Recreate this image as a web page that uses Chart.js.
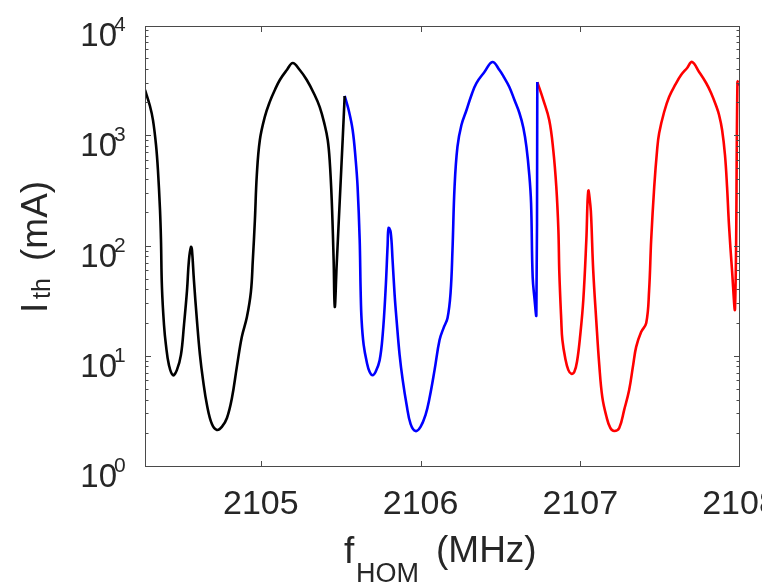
<!DOCTYPE html>
<html>
<head>
<meta charset="utf-8">
<script src="https://cdn.jsdelivr.net/npm/chart.js@4.4.1/dist/chart.umd.min.js"></script>
<style>
  html, body { margin: 0; padding: 0; background: #fff; }
  canvas { display: block; }
</style>
</head>
<body>
<canvas id="ith" width="762" height="585"></canvas>
<script>
// axis range and ticks
const X_MIN = 2104.275, X_MAX = 2108;
const xTicks = [2105, 2106, 2107, 2108];
const yTicks = [1, 10, 100, 1000, 10000];
const yTickExp = ['0', '1', '2', '3', '4'];

// threshold current (mA) vs HOM frequency (MHz)
const fBlack = [2104.275, 2104.306, 2104.325, 2104.344, 2104.356, 2104.369, 2104.375, 2104.381, 2104.394, 2104.406,
  2104.425, 2104.450, 2104.475, 2104.500, 2104.519, 2104.538, 2104.550, 2104.563, 2104.569, 2104.581,
  2104.600, 2104.619, 2104.638, 2104.663, 2104.694, 2104.725, 2104.756, 2104.788, 2104.819, 2104.850,
  2104.881, 2104.913, 2104.938, 2104.950, 2104.963, 2104.975, 2104.994, 2105.025, 2105.056, 2105.088,
  2105.119, 2105.163, 2105.200, 2105.244, 2105.288, 2105.331, 2105.369, 2105.400, 2105.419, 2105.431,
  2105.444, 2105.456, 2105.463, 2105.475, 2105.494, 2105.513, 2105.525];
const iBlack = [2630, 1880, 1400, 833, 494, 214, 115, 42.9, 19.4, 12.8,
  8.4, 6.8, 7.6, 10.4, 19.4, 40, 75, 99, 93, 50,
  21.5, 10.4, 6.2, 3.65, 2.45, 2.17, 2.31, 2.78, 4.2, 8.1,
  15.1, 22.9, 38.7, 75, 174, 445, 925, 1500, 2050, 2630,
  3240, 3990, 4620, 3990, 3240, 2470, 1840, 1265, 925, 609,
  264, 75, 28.3, 68, 256, 964, 2320];

const fBlue = [2105.525, 2105.550, 2105.575, 2105.594, 2105.606, 2105.619, 2105.625, 2105.631, 2105.644, 2105.663,
  2105.681, 2105.700, 2105.719, 2105.744, 2105.763, 2105.781, 2105.794, 2105.800, 2105.813, 2105.825,
  2105.838, 2105.850, 2105.869, 2105.888, 2105.913, 2105.938, 2105.969, 2106.000, 2106.031, 2106.056,
  2106.088, 2106.119, 2106.144, 2106.169, 2106.188, 2106.200, 2106.213, 2106.231, 2106.256, 2106.288,
  2106.319, 2106.350, 2106.400, 2106.450, 2106.494, 2106.525, 2106.556, 2106.588, 2106.619, 2106.644,
  2106.663, 2106.681, 2106.692, 2106.702, 2106.714, 2106.725, 2106.731];
const iBlue = [2320, 1730, 1140, 609, 347, 115, 40, 21.5, 12.8, 9.0,
  7.3, 6.8, 7.3, 9.3, 15.8, 40, 103, 147, 135, 75,
  36, 21.5, 10.4, 6.2, 3.65, 2.45, 2.12, 2.31, 2.96, 4.2,
  7.6, 14.2, 18.2, 22.5, 38, 93, 347, 800, 1265, 1730,
  2370, 3040, 3830, 4720, 3990, 3380, 2800, 2130, 1625, 1190,
  800, 445, 248, 53, 33, 24, 3100];

const fRed = [2106.731, 2106.769, 2106.806, 2106.831, 2106.850, 2106.863, 2106.869, 2106.881, 2106.888, 2106.906,
  2106.925, 2106.944, 2106.963, 2106.981, 2107.000, 2107.019, 2107.038, 2107.050, 2107.063, 2107.069,
  2107.081, 2107.100, 2107.119, 2107.138, 2107.163, 2107.188, 2107.213, 2107.244, 2107.275, 2107.306,
  2107.331, 2107.350, 2107.381, 2107.413, 2107.431, 2107.444, 2107.463, 2107.481, 2107.494, 2107.525,
  2107.556, 2107.594, 2107.631, 2107.669, 2107.700, 2107.744, 2107.788, 2107.819, 2107.850, 2107.869,
  2107.888, 2107.906, 2107.919, 2107.931, 2107.950, 2107.969, 2107.984, 2107.990];
const iRed = [3100, 2130, 1400, 750, 347, 141, 57.5, 21.5, 14.2, 9.7,
  7.6, 7.0, 7.3, 9.3, 15.8, 32.7, 115, 319, 238, 174,
  61, 21.5, 8.4, 4.3, 2.9, 2.26, 2.12, 2.26, 3.3, 5.0,
  8.4, 12.3, 16.8, 20.2, 40, 115, 347, 750, 1070, 1660,
  2270, 2920, 3590, 4160, 4720, 3830, 3040, 2470, 1900, 1560,
  1140, 676, 347, 157, 61, 27.7, 3100, 3200];

// start of the next blue period, cut by the right edge
const fBlueTail = [2107.990, 2108.030];
const iBlueTail = [3000, 2600];

const FONT = '"Liberation Sans", Arial, Helvetica, sans-serif';
const TEXT = '#262626';
const AXIS = '#4a4a4a';

const pts = (fs, is) => fs.map((f, k) => ({ x: f, y: is[k] }));

function line(data, color) {
  return {
    data, borderColor: color, borderWidth: 2.6, pointRadius: 0,
    tension: 0.4, borderJoinStyle: 'round', clip: 0
  };
}

const frame = {
  id: 'frame',
  afterDraw(chart) {
    const { ctx, chartArea: a, scales: { x, y } } = chart;
    ctx.save();
    ctx.strokeStyle = AXIS;
    ctx.lineWidth = 1;
    ctx.strokeRect(a.left + 0.5, a.top + 0.5, a.right - a.left - 1, a.bottom - a.top - 1);

    // inward ticks on all four sides
    ctx.beginPath();
    xTicks.forEach(v => {
      const px = Math.round(x.getPixelForValue(v)) + 0.5;
      if (px >= a.right - 1) return;
      ctx.moveTo(px, a.bottom); ctx.lineTo(px, a.bottom - 6);
      ctx.moveTo(px, a.top); ctx.lineTo(px, a.top + 6);
    });
    for (let k = 0; k < 4; k++) {
      for (let m = 1; m <= 9; m++) {
        const v = m * Math.pow(10, k);
        const py = Math.round(y.getPixelForValue(v)) - 0.5;
        const len = m === 1 ? 6 : 3.5;
        ctx.moveTo(a.left, py); ctx.lineTo(a.left + len, py);
        ctx.moveTo(a.right, py); ctx.lineTo(a.right - len, py);
      }
    }
    ctx.stroke();

    // tick labels
    ctx.fillStyle = TEXT;
    ctx.textBaseline = 'alphabetic';
    ctx.font = '34px ' + FONT;
    ctx.textAlign = 'center';
    xTicks.forEach(v => ctx.fillText(String(v), x.getPixelForValue(v), a.bottom + 47));
    yTicks.forEach((v, k) => {
      const py = y.getPixelForValue(v);
      ctx.font = '33px ' + FONT;
      ctx.textAlign = 'right';
      ctx.fillText('10', 117, py + 20);
      ctx.font = '21px ' + FONT;
      ctx.textAlign = 'left';
      ctx.fillText(yTickExp[k], 114, py + 5);
    });

    // x title: f_HOM (MHz)
    ctx.textAlign = 'left';
    ctx.font = '37px ' + FONT;
    ctx.fillText('f', 344, 563);
    ctx.font = '27px ' + FONT;
    ctx.fillText('HOM', 356, 582);
    ctx.font = '37px ' + FONT;
    ctx.fillText('(MHz)', 436, 562);

    // y title: I_th (mA), rotated
    ctx.translate(47, 313);
    ctx.rotate(-Math.PI / 2);
    ctx.font = '37px ' + FONT;
    ctx.fillText('I', 0, 0);
    ctx.font = '25px ' + FONT;
    ctx.fillText('th', 14, 3);
    ctx.font = '37px ' + FONT;
    ctx.fillText('(mA)', 52, 0);
    ctx.restore();
  }
};

new Chart(document.getElementById('ith'), {
  type: 'line',
  data: {
    datasets: [
      line(pts(fBlack, iBlack), '#000000'),
      line(pts(fBlue, iBlue), '#0000ff'),
      line(pts(fRed, iRed), '#ff0000'),
      line(pts(fBlueTail, iBlueTail), '#0000ff')
    ]
  },
  options: {
    responsive: false,
    animation: false,
    layout: { padding: { left: 145, right: 22, top: 26, bottom: 118 } },
    plugins: { legend: { display: false }, tooltip: { enabled: false } },
    scales: {
      x: { type: 'linear', min: X_MIN, max: X_MAX, display: false },
      y: { type: 'logarithmic', min: 1, max: 10000, display: false }
    }
  },
  plugins: [frame]
});
</script>
</body>
</html>
